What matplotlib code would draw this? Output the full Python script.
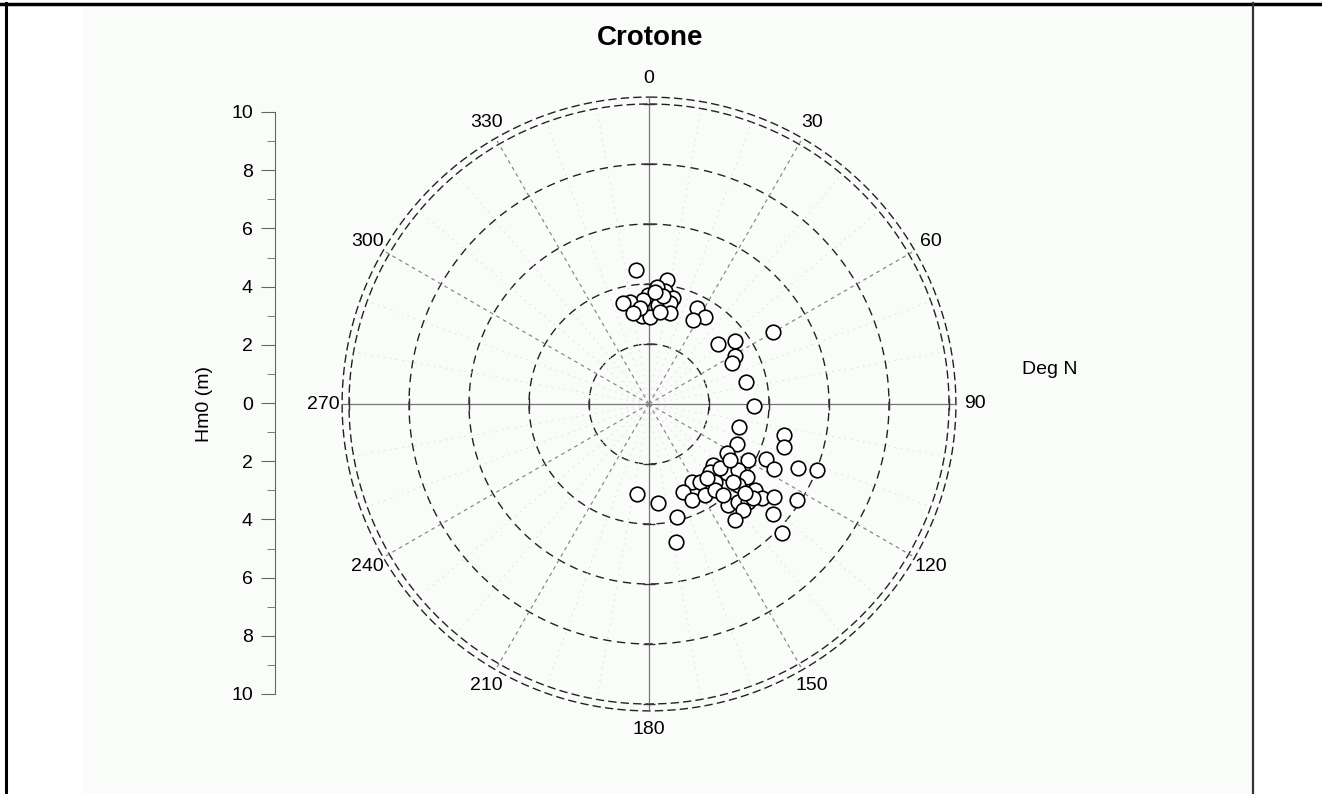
import numpy as np
import matplotlib
matplotlib.use("Agg")
import matplotlib.pyplot as plt
from matplotlib.lines import Line2D
from matplotlib.patches import Rectangle

plt.rcParams['font.family'] = ['Liberation Sans', 'DejaVu Sans']

# --- data: wave direction (deg N) and significant wave height Hm0 (m) ---
direction = [354.5, 8.3, 8.1, 3.9, 359.5, 356.7, 349.4, 12.8, 5.2, 11.7,
             355.5, 0.7, 13.0, 354.6, 345.6, 6.8, 7.4, 3.1, 350.0,
             26.6, 32.8, 27.6, 49.0, 53.8, 60.8, 63.7, 77.2, 91.1, 59.9,
             104.3, 102.9, 107.7, 114.4, 122.1, 119.5, 115.2, 117.5, 113.2, 111.4,
             133.6, 131.5, 126.6, 126.7, 138.1, 151.1, 146.8, 139.8, 132.3, 129.1,
             129.8, 126.7, 123.0, 158.9, 155.9, 148.4, 142.5, 142.0, 137.8, 134.7,
             138.4, 143.4, 131.6, 134.1, 174.8, 166.1, 168.9, 187.6, 132.1,
             132.0, 132.9, 140.9, 132.8, 124.7, 141.9]
hm0 = [4.49, 4.18, 3.80, 3.91, 3.63, 3.47, 3.46, 3.62, 3.31, 3.44,
       2.94, 2.90, 3.11, 3.21, 3.48, 3.09, 3.63, 3.74, 3.08,
       3.58, 3.45, 3.16, 3.05, 3.55, 3.28, 3.09, 3.32, 3.50, 4.78,
       3.10, 4.62, 4.72, 3.22, 3.07, 3.79, 4.31, 4.70, 5.41, 6.02,
       2.95, 3.47, 3.69, 4.07, 3.05, 2.97, 3.11, 3.41, 4.01, 4.55,
       4.90, 5.19, 5.88, 3.14, 3.51, 3.56, 3.61, 4.27, 4.41, 4.64,
       4.72, 4.81, 5.53, 6.18, 3.31, 3.88, 4.69, 3.03, 4.67,
       3.19, 3.82, 3.91, 4.36, 3.28, 3.13]

ring_values = [2, 4, 6, 8]
angle_labels = [0, 30, 60, 90, 120, 150, 180, 210, 240, 270, 300, 330]
hm0_ticks = [-10, -8, -6, -4, -2, 0, 2, 4, 6, 8, 10]

W, H = 1322, 794
fig = plt.figure(figsize=(W / 100, H / 100), dpi=100)
fig.patch.set_facecolor('white')

# page frame of the screenshot
fig.add_artist(Rectangle((83 / W, 0), (1251 - 83) / W, 1 - 5 / H,
                         transform=fig.transFigure, facecolor='#fafcfa', edgecolor='none', zorder=0))
fig.add_artist(Line2D([0, 1], [1 - 3.5 / H, 1 - 3.5 / H], transform=fig.transFigure, color='black', lw=2.5))
fig.add_artist(Line2D([6 / W, 6 / W], [0, 1 - 3 / H], transform=fig.transFigure, color='black', lw=2.2))
fig.add_artist(Line2D([1252.5 / W, 1252.5 / W], [0, 1 - 3 / H], transform=fig.transFigure, color='#333333', lw=1.6))

# polar plot, centre (649, 404) px, r=10 -> 300 px
cx, cy, R = 649, 404, 300
ax = fig.add_axes([(cx - R) / W, (H - cy - R) / H, 2 * R / W, 2 * R / H], projection='polar')
ax.set_theta_zero_location('N')
ax.set_theta_direction(-1)
ax.set_rlim(0, 10)
ax.set_axis_off()

th = np.linspace(0, 2 * np.pi, 721)
for r in ring_values:
    ax.plot(th, np.full_like(th, r), color='#222222', lw=1.0, ls=(0, (6, 4)))
for r in [10.0, 10.23]:
    ax.plot(th, np.full_like(th, r), color='#222222', lw=1.0, ls=(0, (6, 3)), clip_on=False)

for a in range(0, 360, 10):
    t = np.deg2rad(a)
    if a % 90 == 0:
        ax.plot([t, t], [0, 10.23], color='#777777', lw=0.9, clip_on=False)
    elif a % 30 == 0:
        ax.plot([t, t], [0, 10.23], color='#8a8a8a', lw=0.9, ls=(0, (3, 3)), clip_on=False)
    else:
        ax.plot([t, t], [0.3, 10.0], color='#dddddd', lw=0.7, ls=(0, (1.5, 5)))

# small ticks where the main axes cross the rings
for r in ring_values + [10]:
    for a, mk in [(0, '_'), (180, '_'), (90, '|'), (270, '|')]:
        ax.plot(np.deg2rad(a), r, marker=mk, color='#333333', ms=8, mew=1.0, clip_on=False)

for a in angle_labels:
    ax.text(np.deg2rad(a), 10.85, str(a), ha='center', va='center', fontsize=14, clip_on=False)

ax.scatter(np.deg2rad(direction), hm0, s=110, facecolors='white', edgecolors='black',
           linewidths=1.2, zorder=5, clip_on=False)

# Hm0 gauge on the left
yax = fig.add_axes([275 / W, (H - 694) / H, 0.001, (694 - 112) / H])
yax.set_ylim(-10, 10)
yax.set_xticks([])
yax.set_yticks(hm0_ticks)
yax.set_yticklabels([str(abs(v)) for v in hm0_ticks], fontsize=14)
yax.set_yticks(range(-9, 10, 2), minor=True)
yax.tick_params(axis='y', which='major', length=10, color='#666666', pad=6)
yax.tick_params(axis='y', which='minor', length=6, color='#666666')
for s in ['top', 'right', 'bottom']:
    yax.spines[s].set_visible(False)
yax.spines['left'].set_color('#666666')
yax.patch.set_alpha(0)

fig.text(205 / W, 1 - 404 / H, 'Hm0 (m)', rotation=90, ha='center', va='center', fontsize=14)
fig.text(1050 / W, 1 - 370 / H, 'Deg N', ha='center', va='center', fontsize=14)
fig.text(650 / W, 1 - 38 / H, 'Crotone', ha='center', va='center', fontsize=20, fontweight='bold')

fig.savefig('out.png', dpi=100, facecolor=fig.get_facecolor())
